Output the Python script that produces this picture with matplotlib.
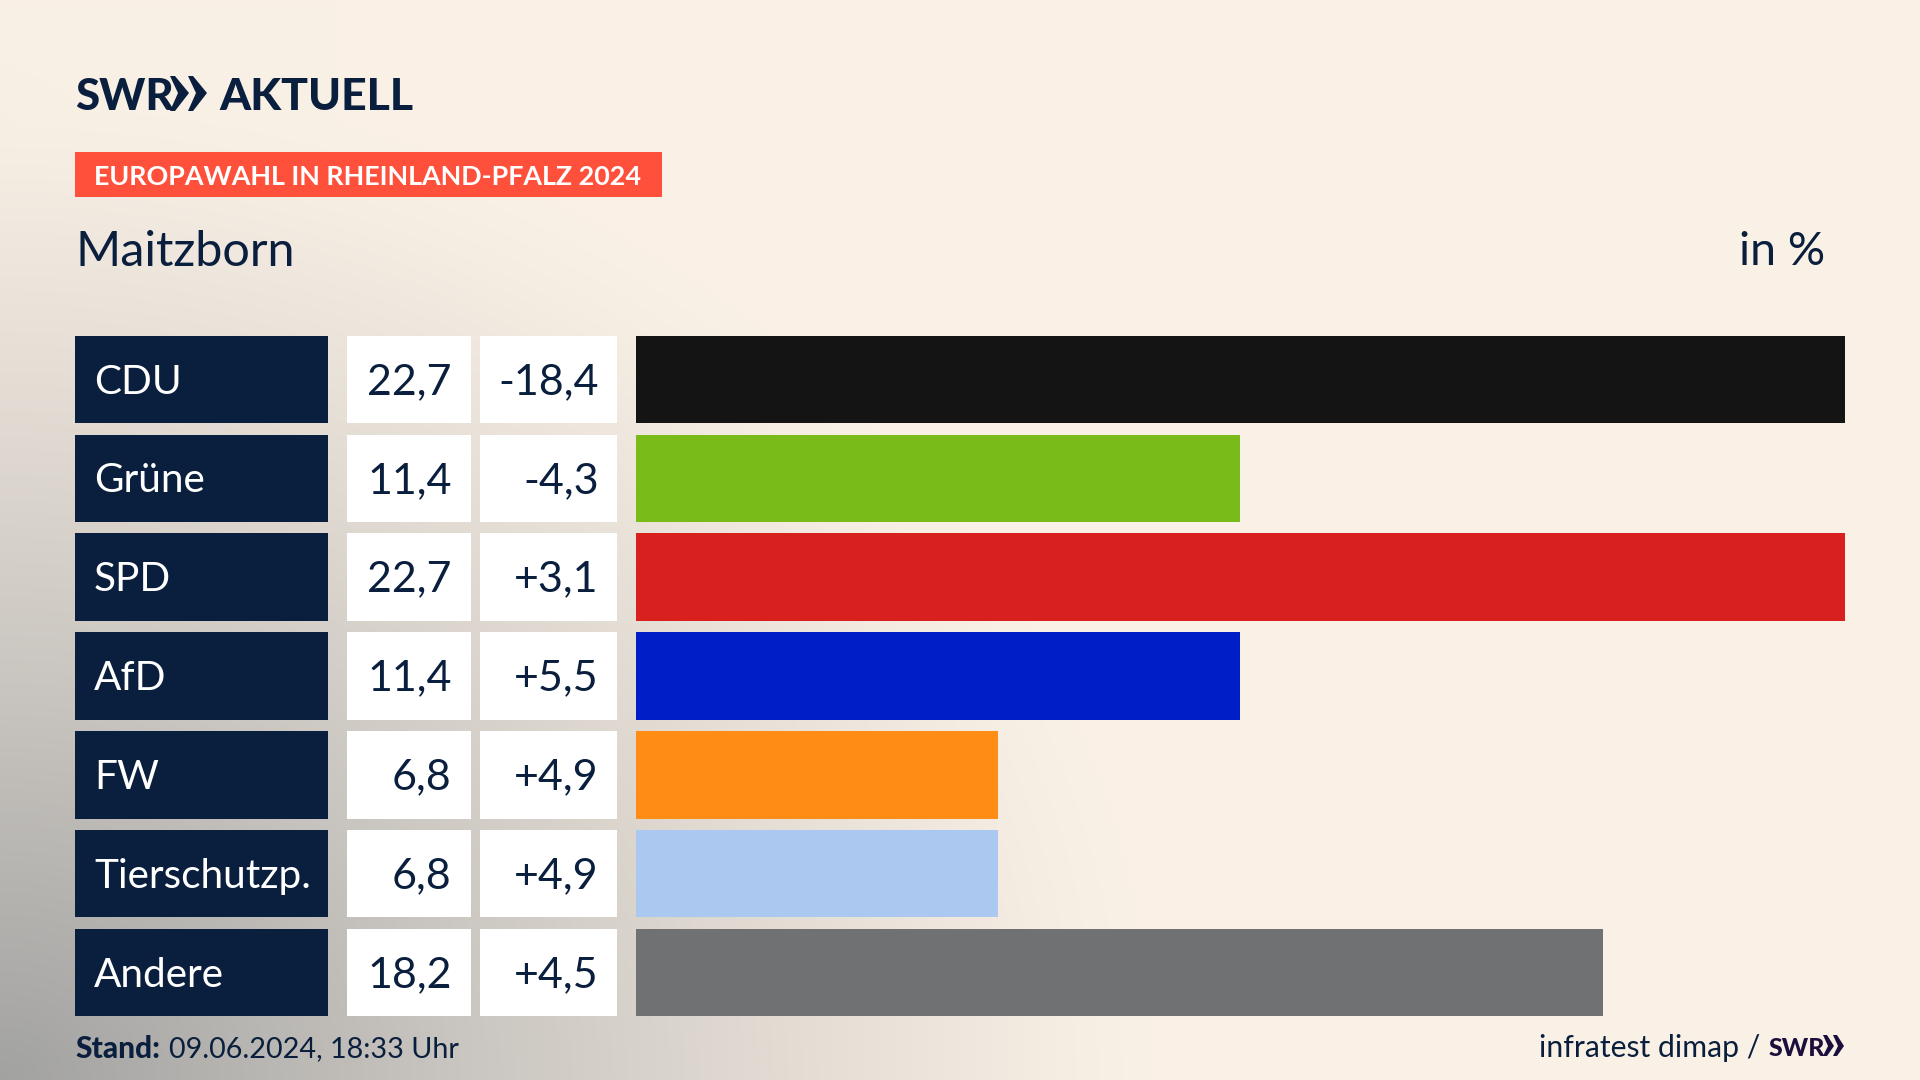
import numpy as np
import matplotlib
matplotlib.use("Agg")
import matplotlib.pyplot as plt
from matplotlib.patches import Polygon, Rectangle

parties = ["CDU", "Grüne", "SPD", "AfD", "FW", "Tierschutzp.", "Andere"]
shares = [22.73, 11.36, 22.73, 11.36, 6.8, 6.8, 18.18]
changes = [-18.4, -4.3, 3.1, 5.5, 4.9, 4.9, 4.5]
colors = ["#141414", "#79bc19", "#d8201e", "#001ec8", "#ff8c14", "#abc8f0", "#707173"]
title = "Maitzborn"
unit = "in %"
banner = "EUROPAWAHL IN RHEINLAND-PFALZ 2024"

NAVY = "#0a1f3d"
CREAM = "#faf1e6"
FONT = "Lato"
W, H = 1920, 1080


def fmt(v):
    return f"{v:.1f}".replace(".", ",")


def signed(v):
    return f"{v:+.1f}".replace(".", ",")


fig = plt.figure(figsize=(W / 100, H / 100), dpi=100)
bg = fig.add_axes([0, 0, 1, 1])
bg.set_xlim(0, W)
bg.set_ylim(H, 0)
bg.axis("off")

# background: cream with a grey glow from the lower-left corner
yy, xx = np.mgrid[0:H:4, 0:W:4]
d = np.sqrt((xx / 1150.0) ** 2 + ((H - yy) / 1000.0) ** 2)
t = np.clip(1 - d, 0, 1)
edge = np.clip(1 - xx / 330.0, 0, 1) ** 2 * 0.45
t = np.clip(np.maximum(t, edge * (yy / H)), 0, 1)
base = np.array(matplotlib.colors.to_rgb(CREAM))
grey = np.array(matplotlib.colors.to_rgb("#a2a2a1"))
img = base[None, None, :] + (grey - base)[None, None, :] * (t[..., None] ** 1.15)
bg.imshow(img, extent=(0, W, H, 0), aspect="auto", zorder=0, interpolation="bilinear")
bg.set_xlim(0, W)
bg.set_ylim(H, 0)

# logo
bg.text(75, 93, "SWR", family=FONT, weight="black", fontsize=31.5, color=NAVY,
        ha="left", va="center_baseline", zorder=3)
bg.text(219, 93, "AKTUELL", family=FONT, weight="black", fontsize=32, color=NAVY,
        ha="left", va="center_baseline", zorder=3)
for x0 in (170, 188):
    bg.add_patch(Polygon([(x0, 76), (x0 + 5, 76), (x0 + 19, 93), (x0 + 5, 111), (x0, 111), (x0 + 8, 93)],
                         closed=True, fc=NAVY, ec="none", zorder=3))

# banner
bg.add_patch(Rectangle((75, 152), 587, 45, fc="#ff503c", ec="none", zorder=2))
bg.text(94, 175, banner, family=FONT, weight="bold", fontsize=19.35, color="white",
        ha="left", va="center_baseline", zorder=3)

# headings
bg.text(75, 248, title, family=FONT, fontsize=35, color=NAVY, ha="left", va="center_baseline", zorder=3)
bg.text(1825, 248, unit, family=FONT, fontsize=33.5, color=NAVY, ha="right", va="center_baseline", zorder=3)

# table columns and bars share one row scale
TOP, BOTTOM = 336, 1016


def col(x0, x1):
    a = fig.add_axes([x0 / W, 1 - BOTTOM / H, (x1 - x0) / W, (BOTTOM - TOP) / H])
    a.set_ylim(6.44, -0.44)
    a.axis("off")
    a.patch.set_alpha(0)
    return a


rows = np.arange(len(parties))
HEIGHT = 0.885

a_name = col(75, 328)
a_name.set_xlim(0, 1)
a_name.barh(rows, 1, height=HEIGHT, color=NAVY)
a_val = col(347, 471)
a_val.set_xlim(0, 1)
a_val.barh(rows, 1, height=HEIGHT, color="white")
a_chg = col(480, 617)
a_chg.set_xlim(0, 1)
a_chg.barh(rows, 1, height=HEIGHT, color="white")
a_bar = col(636, 1845)
a_bar.set_xlim(0, max(shares))
a_bar.barh(rows, shares, height=HEIGHT, color=colors)

for i, (p, s, c) in enumerate(zip(parties, shares, changes)):
    a_name.text(19 / 253, i - 0.01, p, family=FONT, fontsize=29.2, color="white", ha="left", va="center_baseline")
    a_val.text(104.5 / 124, i - 0.01, fmt(s), family=FONT, fontsize=31, color=NAVY, ha="right", va="center_baseline")
    a_chg.text(118.5 / 137, i - 0.01, signed(c), family=FONT, fontsize=31, color=NAVY, ha="right", va="center_baseline")

# footer
bg.text(75, 1047, "Stand:", family=FONT, weight="black", fontsize=21.5, color=NAVY, ha="left", va="center_baseline", zorder=3)
bg.text(169, 1047, "09.06.2024, 18:33 Uhr", family=FONT, fontsize=20.7, color=NAVY, ha="left", va="center_baseline", zorder=3)
bg.text(1760, 1046, "infratest dimap /", family=FONT, fontsize=21.7, color=NAVY, ha="right", va="center_baseline", zorder=3)
LOGO = "#1c0f3d"
bg.text(1769, 1046, "SWR", family=FONT, weight="black", fontsize=18, color=LOGO,
        ha="left", va="center_baseline", zorder=3)
for x0 in (1823, 1833):
    bg.add_patch(Polygon([(x0, 1035), (x0 + 4, 1035), (x0 + 11, 1046), (x0 + 4, 1056), (x0, 1056), (x0 + 5, 1046)],
                         closed=True, fc=LOGO, ec="none", zorder=3))

fig.savefig("out.png", dpi=100)
